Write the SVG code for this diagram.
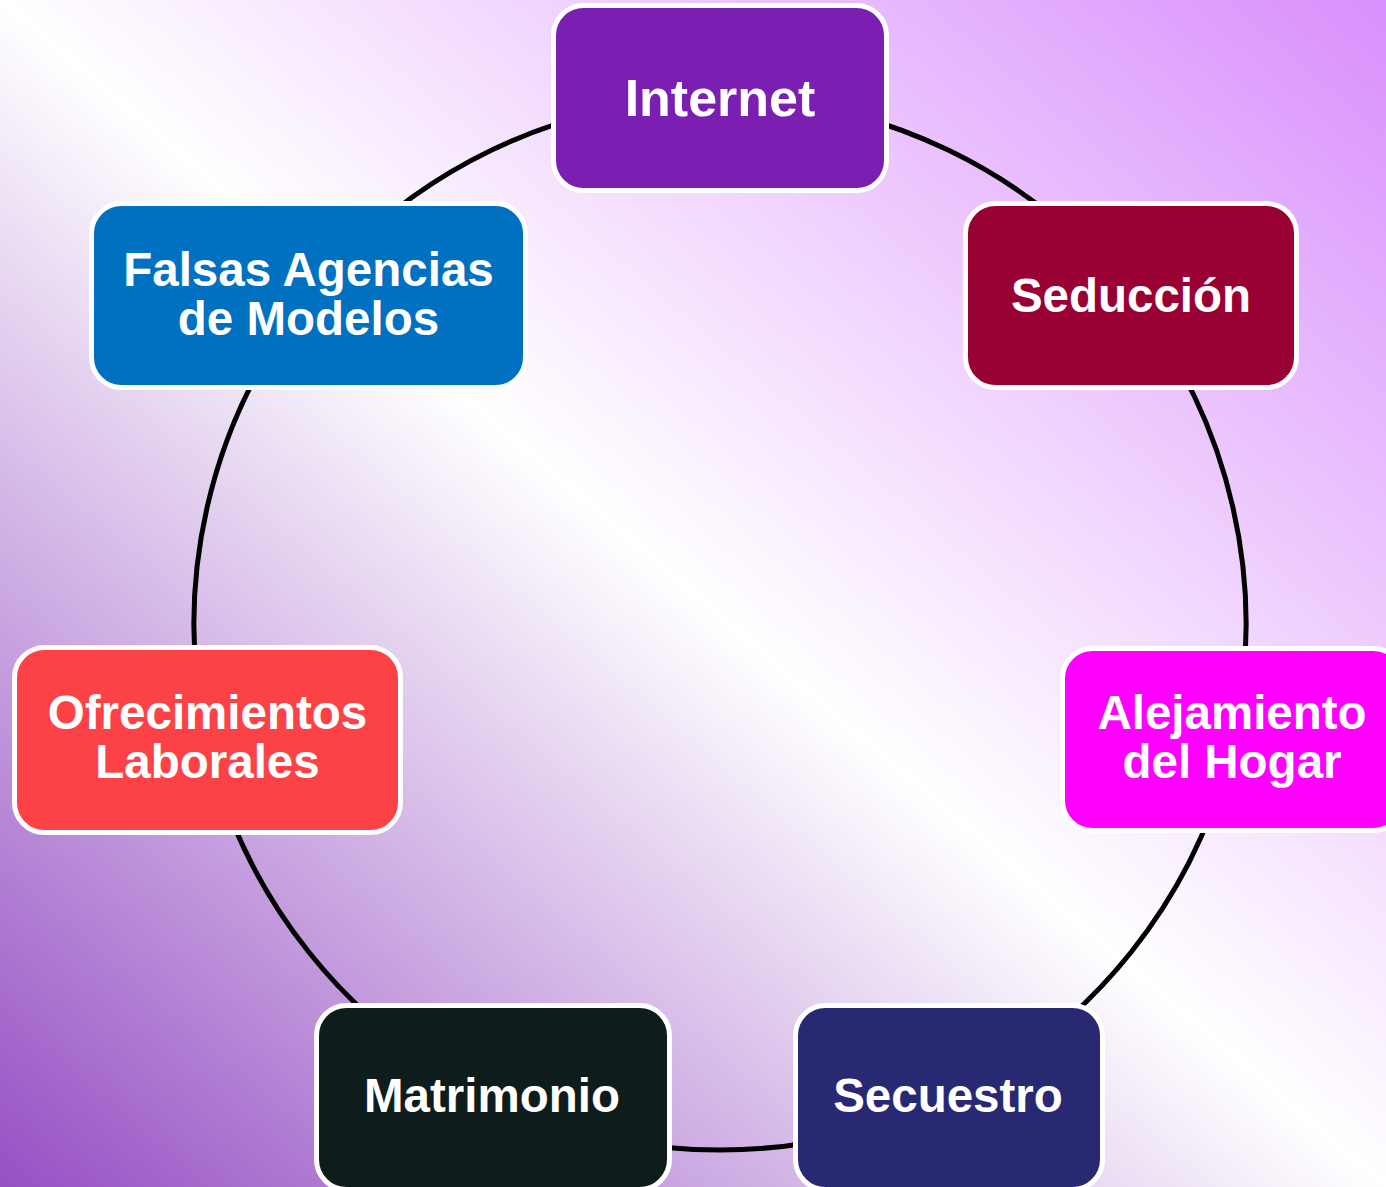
<svg xmlns="http://www.w3.org/2000/svg" width="1386" height="1187" viewBox="0 0 1386 1187">
  <defs>
    <linearGradient id="bg" x1="0" y1="1" x2="1" y2="0">
      <stop offset="0" stop-color="#9650c4"/>
      <stop offset="0.5" stop-color="#ffffff"/>
      <stop offset="1" stop-color="#d98ffc"/>
    </linearGradient>
  </defs>
  <style>
    .box { stroke: #ffffff; stroke-width: 5; }
    .lbl { font-family: "Liberation Sans", Arial, sans-serif; font-weight: bold; font-size: 47.5px; fill: #ffffff; text-anchor: middle; }
    .conn { fill: none; stroke: #000000; stroke-width: 5; }
  </style>
  <rect x="0" y="0" width="1386" height="1187" fill="url(#bg)"/>
  <g id="connectors">
    <path class="conn" d="M720,98 A526,526 0 0 1 1131.24,296.04"/>
    <path class="conn" d="M1131.24,296.04 A526,526 0 0 1 1232.81,741.05"/>
    <path class="conn" d="M1232.81,741.05 A526,526 0 0 1 948.22,1097.91"/>
    <path class="conn" d="M948.22,1097.91 A526,526 0 0 1 491.78,1097.91"/>
    <path class="conn" d="M491.78,1097.91 A526,526 0 0 1 207.19,741.05"/>
    <path class="conn" d="M207.19,741.05 A526,526 0 0 1 308.76,296.04"/>
    <path class="conn" d="M308.76,296.04 A526,526 0 0 1 720,98"/>
  </g>
  <g id="node-internet">
    <rect class="box" x="553.5" y="5.5" width="333" height="185" rx="30" fill="#7a1fb2"/>
    <text class="lbl" x="720" y="116" style="font-size:52px">Internet</text>
  </g>
  <g id="node-seduccion">
    <rect class="box" x="965.5" y="203.5" width="331" height="184" rx="30" fill="#990033"/>
    <text class="lbl" x="1131" y="312">Seducción</text>
  </g>
  <g id="node-alejamiento">
    <rect class="box" x="1062.5" y="648.5" width="341" height="182" rx="30" fill="#ff00ff"/>
    <text class="lbl" x="1232" y="729">Alejamiento</text>
    <text class="lbl" x="1232" y="778">del Hogar</text>
  </g>
  <g id="node-secuestro">
    <rect class="box" x="795.5" y="1005.5" width="307" height="184" rx="30" fill="#282873"/>
    <text class="lbl" x="948" y="1112">Secuestro</text>
  </g>
  <g id="node-matrimonio">
    <rect class="box" x="316.5" y="1005.5" width="353" height="184" rx="30" fill="#0e1c1c"/>
    <text class="lbl" x="492" y="1112">Matrimonio</text>
  </g>
  <g id="node-ofrecimientos">
    <rect class="box" x="14.5" y="647.5" width="386" height="185" rx="30" fill="#fc4246"/>
    <text class="lbl" x="207.5" y="729">Ofrecimientos</text>
    <text class="lbl" x="207.5" y="778">Laborales</text>
  </g>
  <g id="node-falsas">
    <rect class="box" x="91.5" y="203.5" width="434" height="184" rx="30" fill="#0070c0"/>
    <text class="lbl" x="308.5" y="286">Falsas Agencias</text>
    <text class="lbl" x="308.5" y="335">de Modelos</text>
  </g>
</svg>
